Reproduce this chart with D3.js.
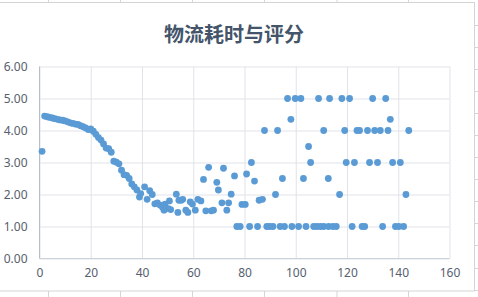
<!DOCTYPE html>
<html>
<head>
<meta charset="utf-8">
<title>物流耗时与评分</title>
<script src="https://cdnjs.cloudflare.com/ajax/libs/d3/7.8.5/d3.min.js"></script>
<style>
  html, body { margin: 0; padding: 0; background: #fff; }
  svg { display: block; }
  .tick text { font-family: "Noto Sans", "Liberation Sans", sans-serif; font-size: 12px; fill: #56606e; }
</style>
</head>
<body>
<div id="chart"></div>
<script>
// logistics time (x) and rating (y)
var hours = [
  1, 2, 3, 4, 5, 6, 7, 8, 9, 10, 11, 12, 13, 14, 15, 16, 17, 18, 19, 20,
  21, 22, 23, 24, 25, 26, 27, 28, 29, 30, 31, 32, 33, 34, 35, 36, 37, 38, 39, 39.5,
  41, 42, 43, 44, 45, 46, 47, 48, 48.6, 49, 50.3, 50.7, 51.2, 53.4, 54, 54.4, 55.3, 55.9, 57.1, 57.9,
  58.8, 59.7, 60.8, 61.8, 63, 64, 64.9, 66, 67, 67.9, 69.2, 69.8, 71.2, 71.8, 73.1, 73.8, 74.8, 76.1, 77, 78.3,
  79, 80.3, 80.8, 82, 82.7, 83.9, 85.1, 85.7, 87, 87.8, 88.7, 89.8, 91.1, 92.1, 92.9, 93.9, 94.8, 95.6, 96.8, 98.1,
  98.5, 99.8, 101.1, 102, 103, 104, 105, 105.8, 107, 108.3, 108.9, 109.6, 110.9, 110.9, 112.7, 112.8, 113.2, 114.5, 115.8, 117.1,
  118, 119.1, 119.7, 121, 122, 122.9, 123.9, 124.9, 125.9, 126.9, 128, 128.8, 130, 130.8, 131.9, 133, 133.9, 135.1, 136, 136.9,
  137.8, 138.9, 140.2, 140.8, 142.1, 143, 144.1
];
var ratings = [
  3.35, 4.45, 4.43, 4.41, 4.39, 4.37, 4.35, 4.33, 4.32, 4.30, 4.27, 4.24, 4.22, 4.20, 4.19, 4.15, 4.12, 4.08, 4.03, 4.05,
  3.98, 3.88, 3.78, 3.70, 3.58, 3.45, 3.43, 3.32, 3.04, 3.01, 2.96, 2.76, 2.62, 2.60, 2.50, 2.33, 2.24, 2.14, 1.92, 2.03,
  2.24, 1.85, 2.12, 2.00, 1.71, 1.74, 1.67, 1.60, 1.51, 1.70, 1.56, 1.80, 1.53, 2.01, 1.44, 1.82, 1.82, 1.85, 1.51, 1.44,
  1.77, 1.70, 1.51, 1.85, 1.80, 2.47, 1.49, 2.85, 1.49, 1.51, 2.38, 2.14, 1.74, 2.82, 1.51, 1.74, 2.01, 2.58, 1.00, 1.00,
  1.69, 1.69, 2.64, 1.00, 3.00, 2.42, 1.00, 1.82, 1.85, 4.00, 1.00, 1.00, 1.00, 2.00, 4.00, 1.00, 2.50, 1.00, 5.00, 4.35,
  1.00, 5.00, 1.00, 5.00, 2.50, 1.00, 3.50, 3.00, 1.00, 1.00, 5.00, 1.00, 1.00, 4.00, 2.50, 1.00, 5.00, 1.00, 1.00, 2.00,
  5.00, 4.00, 3.00, 5.00, 1.00, 3.00, 4.00, 4.00, 1.00, 1.00, 4.00, 3.00, 5.00, 4.00, 3.00, 4.00, 1.00, 5.00, 4.00, 4.35,
  3.00, 1.00, 1.00, 3.00, 1.00, 2.00, 4.00
];
var xTicks = [0, 20, 40, 60, 80, 100, 120, 140, 160];
var yTicks = [0, 1, 2, 3, 4, 5, 6];
var chartTitle = "物流耗时与评分";

var W = 478, H = 297;
var svg = d3.select("#chart").append("svg")
    .attr("width", W).attr("height", H);

// spreadsheet cells showing around the chart
var cellLine = "#d6d6d6";
var colEdges = [48, 120, 192, 264, 336.5, 408];
colEdges.forEach(function(cx) {
  svg.append("line").attr("x1", cx + 0.5).attr("x2", cx + 0.5).attr("y1", 0).attr("y2", 3)
    .style("stroke", cellLine);
  svg.append("line").attr("x1", cx + 0.5).attr("x2", cx + 0.5).attr("y1", 291).attr("y2", H)
    .style("stroke", cellLine);
});
for (var ry = 24.5; ry < H; ry += 22.1) {
  svg.append("line").attr("x1", 474).attr("x2", W).attr("y1", Math.round(ry) + 0.5).attr("y2", Math.round(ry) + 0.5)
    .style("stroke", cellLine);
}
// chart area border
svg.append("rect").attr("x", -1).attr("y", 2.5).attr("width", 475.5).attr("height", 288.5)
  .style("fill", "#fff").style("stroke", "#d4d4d4");

var plotLeft = 39.5, plotRight = 449.5, plotTop = 66.5, plotBottom = 258.5;
var x = d3.scaleLinear().domain([0, 160]).range([plotLeft, plotRight]);
var y = d3.scaleLinear().domain([0, 6]).range([plotBottom, plotTop]);

var grid = "#dfe3ea";

var yAxis = svg.append("g")
    .attr("transform", "translate(" + plotLeft + ",0)")
    .call(d3.axisLeft(y).tickValues(yTicks).tickFormat(d3.format(".2f"))
      .tickSize(-(plotRight - plotLeft)).tickPadding(12));
yAxis.select(".domain").remove();
yAxis.selectAll(".tick line").style("stroke", grid);

var xAxis = svg.append("g")
    .attr("transform", "translate(0," + plotBottom + ")")
    .call(d3.axisBottom(x).tickValues(xTicks).tickFormat(d3.format("d"))
      .tickSize(-(plotBottom - plotTop)).tickPadding(10));
xAxis.select(".domain").remove();
xAxis.selectAll(".tick line").style("stroke", grid);

// axis lines
svg.append("line").attr("x1", plotLeft).attr("x2", plotLeft).attr("y1", plotTop).attr("y2", plotBottom)
  .style("stroke", "#b6bec9");
svg.append("line").attr("x1", plotLeft).attr("x2", plotRight).attr("y1", plotBottom).attr("y2", plotBottom)
  .style("stroke", "#ccd2da");

// points
svg.append("g").selectAll("circle")
  .data(hours.map(function(h, i) { return [h, ratings[i]]; }))
  .join("circle")
    .attr("cx", function(d) { return x(d[0]); })
    .attr("cy", function(d) { return y(d[1]); })
    .attr("r", 3.4)
    .style("fill", "#5b9bd5");

svg.append("text")
  .attr("x", 234).attr("y", 33)
  .attr("text-anchor", "middle")
  .attr("dominant-baseline", "central")
  .style("font-family", "'Noto Sans CJK SC', sans-serif")
  .style("font-weight", "bold")
  .style("font-size", "20px")
  .style("fill", "#44546a")
  .text(chartTitle);
</script>
</body>
</html>
